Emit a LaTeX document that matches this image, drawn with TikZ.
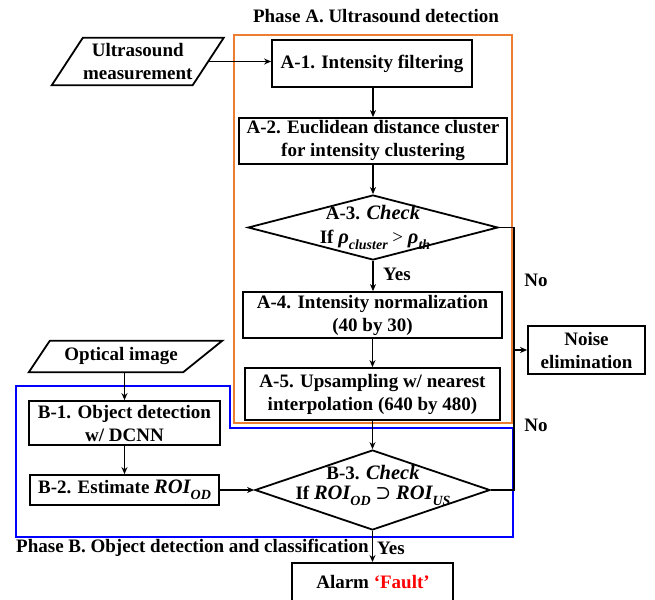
\documentclass[tikz,border=0pt]{standalone}
\usepackage{fontspec}
\setmainfont{Liberation Serif}
\newfontfamily\djs{DejaVu Serif}
\usetikzlibrary{arrows.meta,shapes.geometric,calc}
\definecolor{aorange}{RGB}{237,125,49}
\definecolor{bblue}{RGB}{0,0,255}
\definecolor{fred}{RGB}{255,0,0}
\newcommand\sbx[1]{\raisebox{-0.3em}{\fontsize{14}{14}\selectfont\bfseries\itshape #1}}
\newcommand\mi[1]{{\fontsize{20.5}{23}\selectfont\bfseries\itshape #1}}
\begin{document}
\begin{tikzpicture}[x=1pt,y=-1pt,
  font=\fontsize{19}{23}\selectfont\bfseries,
  box/.style={draw,line width=1.8pt,inner sep=0pt,align=center},
  plain/.style={inner sep=0pt,align=center},
  dia/.style={draw,diamond,line width=1.8pt,inner sep=0pt},
  ln/.style={line width=1.7pt},
  arr/.style={line width=1.7pt,-{Stealth[length=7pt,width=6pt]}},
  io/.style={draw,line width=1.8pt,line join=miter}]
\clip (0,0) rectangle (655,599);
\useasboundingbox (0,0) rectangle (655,599);

% phase frames
\draw[aorange,line width=2pt] (234,35) rectangle (512,423);
\draw[bblue,line width=2.2pt] (16,386) -- (230,386) -- (230,428) -- (513,428) -- (513,537) -- (16,537) -- cycle;

% titles
\node[plain] (tA) at (376,16) {Phase A. Ultrasound detection};
\node[plain,anchor=west] (tB) at (16,548) {Phase B. Object detection and classification};

% inputs
\node[plain,minimum width=140.5pt,minimum height=47pt] (us) at (137.75,61.5) {Ultrasound\\measurement};
\draw[io] ([xshift=-15.5pt]us.south west) -- ([xshift=15.5pt]us.north west) -- ([xshift=15.5pt]us.north east) -- ([xshift=-15.5pt]us.south east) -- cycle;

\node[plain,minimum width=163pt,minimum height=31pt] (opt) at (121,356.5) {Optical image};
\draw[io] ([xshift=-10.5pt]opt.south west) -- ([xshift=10.5pt]opt.north west) -- ([xshift=19.5pt]opt.north east) -- ([xshift=-19.5pt]opt.south east) -- cycle;

% phase A
\node[box,minimum width=200pt,minimum height=47pt] (a1) at (372,63.5) {A-1. Intensity filtering};
\node[box,minimum width=268pt,minimum height=46pt] (a2) at (373,141) {A-2. Euclidean distance cluster\\for intensity clustering};
\node[dia,minimum width=250pt,minimum height=65pt] (a3) at (373,227.5) {};
\node[plain] (a3l1) at (373,213) {A-3. \mi{Check}};
\node[plain] (a3l2) at (375,240) {If \mi{ρ}\sbx{cluster} {\mdseries >} \mi{ρ}\sbx{th}};
\node[box,minimum width=259pt,minimum height=46pt] (a4) at (372.5,315) {A-4. Intensity normalization\\(40 by 30)};
\node[box,minimum width=255pt,minimum height=52pt] (a5) at (372.5,394) {A-5. Upsampling w/ nearest\\interpolation (640 by 480)};
\node[box,minimum width=117pt,minimum height=48pt] (noise) at (586.5,350) {Noise\\elimination};

% phase B
\node[box,minimum width=191pt,minimum height=44pt] (b1) at (124.5,423) {B-1. Object detection\\w/ DCNN};
\node[box,minimum width=189pt,minimum height=30pt] (b2) at (124.5,490) {B-2. Estimate \mi{ROI}\sbx{OD}};
\node[dia,minimum width=235pt,minimum height=80pt] (b3) at (372.5,490) {};
\node[plain] (b3l1) at (373,473) {B-3. \mi{Check}};
\node[plain] (b3l2) at (373,496) {If \mi{ROI}\sbx{OD} {\djs\mdseries ⊃} \mi{ROI}\sbx{US}};
\node[box,minimum width=161pt,minimum height=60pt,anchor=north] (alarm) at (372.5,562) {};
\node[plain] (alarmt) at (373,582) {Alarm \textcolor{fred}{‘Fault’}};

% labels
\node[plain,anchor=west] (yes1) at (383,274) {Yes};
\node[plain,anchor=west] (yes2) at (377,548) {Yes};
\node[plain] (no1) at (536,280) {No};
\node[plain] (no2) at (536,425) {No};

% connectors
\coordinate (rx) at (514,0);
\draw[arr] (us.east) -- (us.east -| a1.west);
\draw[arr] (a1.south -| a2.north) -- (a2.north);
\draw[arr] (a2.south) -- (a3.north);
\draw[arr] (a3.south) -- (a3.south |- a4.north);
\draw[arr] (a4.south -| a5.north) -- (a5.north);
\draw[arr] (a5.south) -- (b3.north);
\draw[ln] (a3.east) -- (a3.east -| rx) -- (b3.east -| rx) -- (b3.east);
\draw[arr] (noise.west -| rx) -- (noise.west);
\draw[arr] (opt.south -| b1.north) -- (b1.north);
\draw[arr] (b1.south -| b2.north) -- (b2.north);
\draw[arr] (b2.east) -- (b3.west);
\draw[arr] (b3.south) -- (b3.south |- alarm.north);
\end{tikzpicture}
\end{document}
